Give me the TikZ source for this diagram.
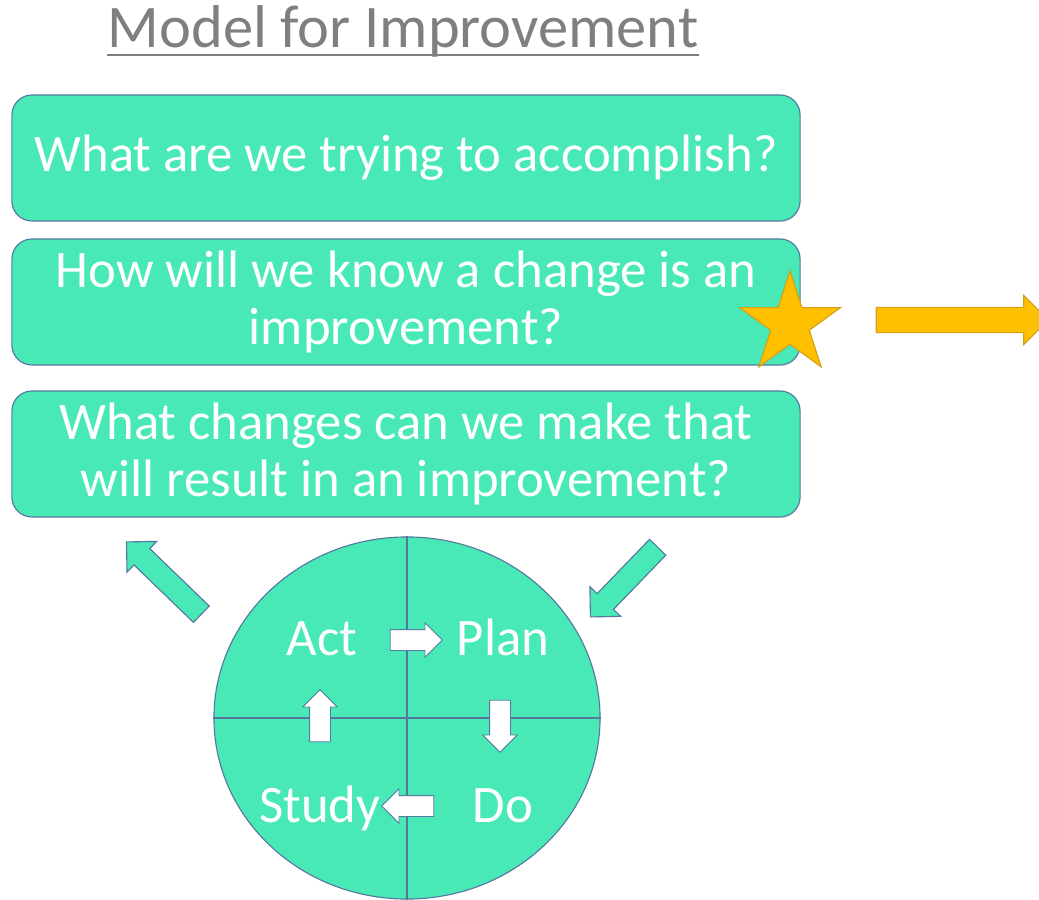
\documentclass[tikz,border=0pt]{standalone}
\usepackage{fontspec}
\setmainfont{Carlito}
\usetikzlibrary{shapes.geometric,shapes.arrows,calc}

\definecolor{mint}{HTML}{48E9B6}
\definecolor{mintedge}{HTML}{5479A0}
\definecolor{gold}{HTML}{FFC000}
\definecolor{goldedge}{HTML}{D4A017}
\definecolor{titlegray}{HTML}{7F7F7F}

\tikzset{
  qbox/.style={draw=mintedge, fill=mint, line width=0.8pt, rounded corners=0.5cm,
    minimum width=19.7cm, minimum height=3.15cm, align=center, text=white,
    font=\fontsize{37.5}{40.5}\selectfont},
  phase/.style={text=white, inner sep=0pt, font=\fontsize{37.5}{40}\selectfont},
  bigarrow/.style={single arrow, draw=mintedge, fill=mint, line width=0.8pt, inner sep=0.27cm,
    minimum width=1.05cm, single arrow head extend=0.25cm},
  smallarrow/.style={single arrow, draw=mintedge, fill=white, line width=0.6pt, inner sep=0.25cm,
    minimum width=0.85cm, minimum height=1.3cm, single arrow head extend=0.17cm}
}

\begin{document}
\begin{tikzpicture}[x=0.025cm, y=-0.025cm]
  \useasboundingbox (0,0) rectangle (1039,900);

  % --- Title ---
  \node[anchor=base, text=titlegray, inner sep=0pt, font=\fontsize{43}{48}\selectfont]
    (title) at (403,48) {Model for Improvement};
  \draw[titlegray, line width=1.3pt]
    ($(title.base west)+(0,7)$) -- ($(title.base east)+(0,7)$);

  % --- The three questions ---
  \node[qbox] (aim) at (406,158) {What are we trying to accomplish?};
  \node[qbox] (measure) at (406,302) {How will we know a change is an\\improvement?};
  \node[qbox] (change) at (406,454) {What changes can we make that\\will result in an improvement?};

  % --- Star and pointer on the second question ---
  \node[star, star points=5, star point ratio=2.618, minimum size=2.65cm, inner sep=0pt,
    draw=goldedge, fill=gold, line width=0.8pt] (badge) at (790,324) {};
  \node[single arrow, draw=goldedge, fill=gold, line width=0.8pt, inner sep=0.3cm,
    minimum width=1.2cm, minimum height=4.3cm, single arrow head extend=0.3cm]
    (pointer) at (956,320) {};

  % --- PDSA cycle ---
  \node[ellipse, draw=mintedge, fill=mint, line width=0.8pt,
    minimum width=9.65cm, minimum height=9.05cm] (cycle) at (407,718) {};
  \draw[mintedge, line width=0.8pt] (cycle.north) -- (cycle.south);
  \draw[mintedge, line width=0.8pt] (cycle.west) -- (cycle.east);

  \node[phase, anchor=base] (act) at (322,655) {Act};
  \node[phase, anchor=base] (plan) at (503,655) {Plan};
  \node[phase, anchor=base] (study) at (320,822) {Study};
  \node[phase, anchor=base] (do) at (503,822) {Do};

  % small arrows turning round the cycle
  \node[smallarrow] (actplan) at (411,640) {};
  \node[smallarrow, rotate=-90] (plando) at (500,721) {};
  \node[smallarrow, rotate=180] (dostudy) at (413,806) {};
  \node[smallarrow, rotate=90] (studyact) at (320,721) {};

  % in from the changes, back out to the questions
  \node[bigarrow, minimum height=2.42cm, rotate=226] (inflow) at (628,578) {};
  \node[bigarrow, minimum height=2.6cm, rotate=136] (outflow) at (168,582) {};

\end{tikzpicture}
\end{document}
